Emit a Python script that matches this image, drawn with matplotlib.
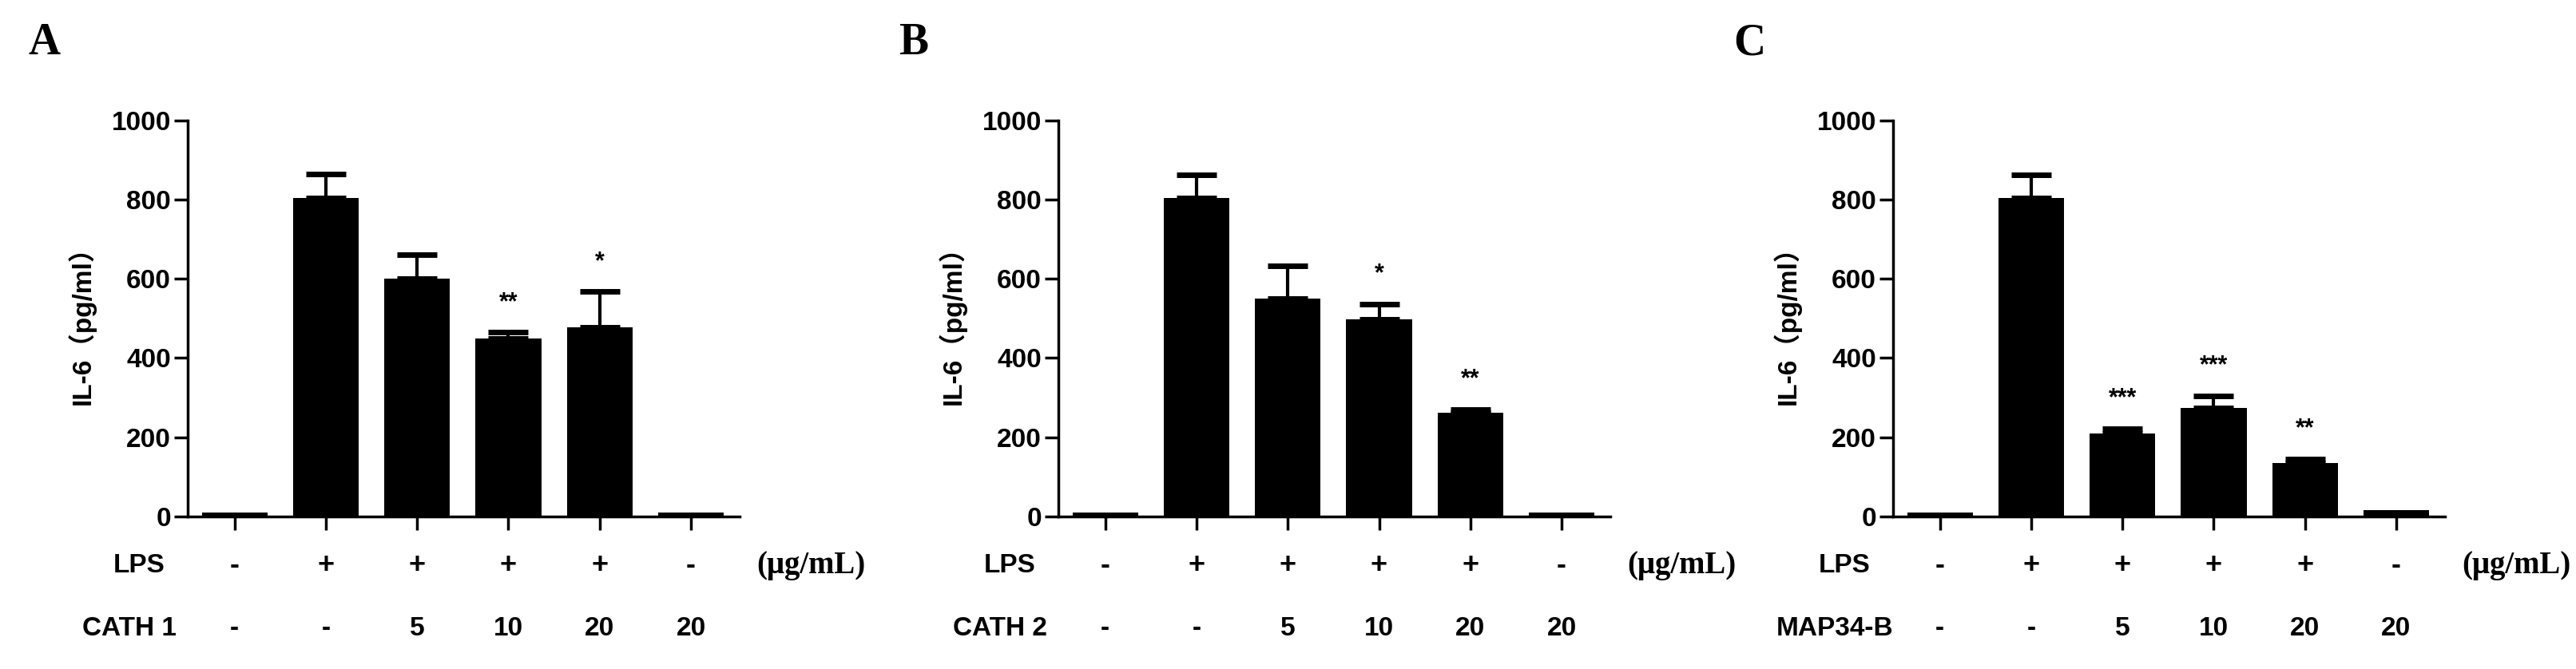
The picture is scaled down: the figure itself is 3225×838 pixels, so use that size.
import matplotlib
matplotlib.use("Agg")
import matplotlib.pyplot as plt
from matplotlib.transforms import blended_transform_factory as btf

lps = ["-", "+", "+", "+", "+", "-"]
dose = ["-", "-", "5", "10", "20", "20"]
letters = ["A", "B", "C"]
agents = ["CATH 1", "CATH 2", "MAP34-B"]
means = [[10, 805, 600, 450, 478, 10],
         [10, 805, 550, 498, 262, 10],
         [10, 805, 210, 275, 135, 15]]
errs = [[0, 60, 62, 15, 90, 0],
        [0, 58, 82, 38, 8, 0],
        [0, 58, 12, 30, 10, 0]]
sig = [["", "", "", "**", "*", ""],
       ["", "", "", "*", "**", ""],
       ["", "", "***", "***", "**", ""]]

fig = plt.figure(figsize=(32.25, 8.38), dpi=100)
lefts = [0.073, 0.411, 0.735]
sans = ["Liberation Sans", "Noto Sans CJK SC", "DejaVu Sans"]
for i in range(3):
    ax = fig.add_axes([lefts[i], 0.228, 0.214, 0.592])
    x = list(range(6))
    ax.bar(x, means[i], width=0.72, color="black")
    for xi, m, e in zip(x, means[i], errs[i]):
        if e > 0:
            ax.errorbar(xi, m, yerr=[[0], [e]], color="black", capsize=18,
                        capthick=5, elinewidth=3)
    for xi, m, e, s in zip(x, means[i], errs[i], sig[i]):
        if s:
            ax.text(xi, m + e + 45, s, ha="center", va="bottom", fontsize=22,
                    fontweight="bold", family=sans)
    ax.set_xlim(-0.51, 5.53)
    ax.set_ylim(0, 1000)
    ax.set_yticks([0, 200, 400, 600, 800, 1000])
    ax.set_xticks(x)
    ax.set_xticklabels([])
    for sp in ["top", "right"]:
        ax.spines[sp].set_visible(False)
    for sp in ["left", "bottom"]:
        ax.spines[sp].set_linewidth(2.5)
    ax.tick_params(axis="both", width=2.5, length=12)
    for lab in ax.get_yticklabels():
        lab.set_fontsize(24); lab.set_fontweight("bold"); lab.set_family(sans)
    ax.set_ylabel("IL-6（pg/ml）", fontsize=24, fontweight="bold", family=sans, labelpad=14)
    tr = btf(ax.transData, fig.transFigure)
    for xi in x:
        ax.text(xi, 0.155, lps[xi], transform=tr, ha="center", va="center",
                fontsize=26, fontweight="bold", family=sans)
        ax.text(xi, 0.06, dose[xi], transform=tr, ha="center", va="center",
                fontsize=24, fontweight="bold", family=sans)
    ax.text(-1.05, 0.155, "LPS", transform=tr, ha="center", va="center",
            fontsize=24, fontweight="bold", family=sans)
    ax.text(-1.15, 0.06, agents[i], transform=tr, ha="center", va="center",
            fontsize=24, fontweight="bold", family=sans)
    ax.text(5.72, 0.155, "(μg/mL)", transform=tr, ha="left", va="center",
            fontsize=28, fontweight="bold", family=["Liberation Serif", "DejaVu Serif"])
    fig.text(lefts[i] - 0.062, 0.935, letters[i], ha="left", va="center",
             fontsize=40, fontweight="bold", family=["Liberation Serif", "DejaVu Serif"])

fig.savefig("out.png", dpi=100)
